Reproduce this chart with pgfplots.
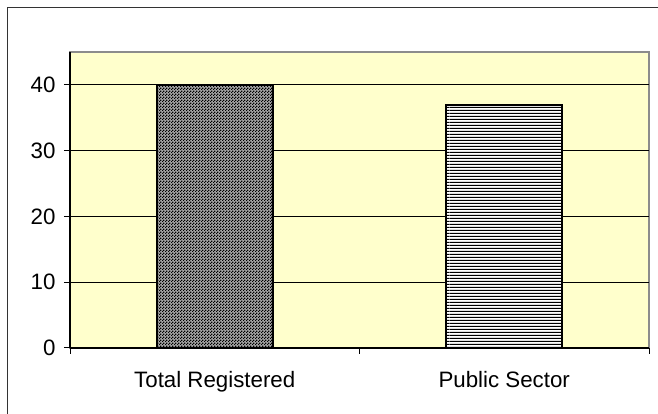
\documentclass[border=0pt]{standalone}
\usepackage{fontspec}
\setmainfont{Liberation Sans}
\usepackage{pgfplots}
\pgfplotsset{compat=1.18}
\usetikzlibrary{patterns.meta}
\definecolor{plotbg}{HTML}{FFFFCC}
\pgfdeclarepattern{
  name=checker,
  type=uncolored,
  bottom left={\pgfpointorigin},
  top right={\pgfpoint{3pt}{3pt}},
  tile size={\pgfpoint{3pt}{3pt}},
  code={
    \pgfpathrectangle{\pgfpointorigin}{\pgfpoint{1.5pt}{1.5pt}}
    \pgfpathrectangle{\pgfpoint{1.5pt}{1.5pt}}{\pgfpoint{1.5pt}{1.5pt}}
    \pgfusepath{fill}
  }
}
\pgfdeclarepattern{
  name=hstripes,
  type=uncolored,
  bottom left={\pgfpointorigin},
  top right={\pgfpoint{150pt}{3pt}},
  tile size={\pgfpoint{150pt}{3pt}},
  code={
    \pgfpathrectangle{\pgfpointorigin}{\pgfpoint{150pt}{1.6pt}}
    \pgfusepath{fill}
  }
}
\begin{document}
\begin{tikzpicture}[x=1pt,y=1pt]
\useasboundingbox (0,0) rectangle (658,414);
\draw[line width=1.6pt, color=black!80] (7.5,-10) -- (7.5,406.5) -- (670,406.5);
\begin{axis}[
  at={(70pt,66pt)}, anchor=south west,
  scale only axis, width=579pt, height=296pt,
  xmin=-0.5, xmax=1.5, ymin=0, ymax=45,
  axis background/.style={fill=plotbg, draw=black!45, line width=1.5pt},
  axis x line*=bottom, axis y line*=left,
  axis line style={black, line width=1.3pt, -},
  xtick={0,1}, xticklabels={Total Registered, Public Sector},
  minor xtick={-0.5,0.5,1.5},
  ytick={0,10,20,30,40},
  tick align=outside,
  major tick length=6pt, minor tick length=6pt,
  x tick style={draw=none},
  minor x tick style={draw=black, line width=1pt},
  y tick style={black, line width=1pt},
  ymajorgrids, grid style={black, line width=0.9pt},
  ticklabel style={font=\fontsize{22.3}{26}\selectfont},
  /pgf/number format/assume math mode=true,
  xticklabel style={yshift=-14pt},
  yticklabel style={xshift=-5pt},
]
\addplot[ybar, bar width=116pt, bar shift=0pt, draw=black, line width=2pt, fill=black!35, postaction={pattern=checker}] coordinates {(0,40)};
\addplot[ybar, bar width=116pt, bar shift=0pt, draw=black, line width=2pt, fill=white, postaction={pattern=hstripes}] coordinates {(1,37)};
\end{axis}
\end{tikzpicture}
\end{document}
